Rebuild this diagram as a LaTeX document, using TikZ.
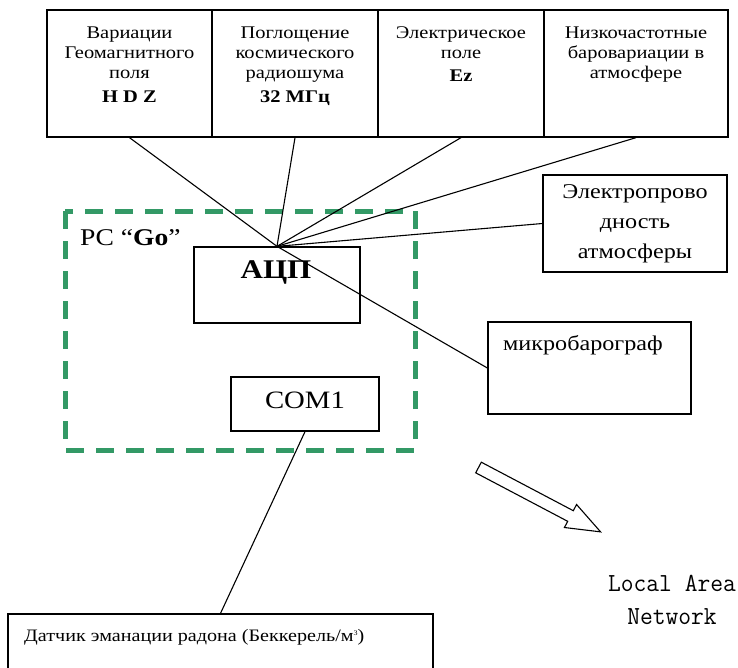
\documentclass[tikz,border=0pt]{standalone}
\usepackage{fontspec}
\setmainfont{Liberation Serif}[FakeStretch=1.15]
\newfontfamily\serifnt{Liberation Serif}[FakeStretch=1.15]
\newfontfamily\monofnt{Latin Modern Mono}
\usetikzlibrary{calc}
\definecolor{dashgreen}{RGB}{51,153,102}
\begin{document}
\begin{tikzpicture}[x=1pt,y=-1pt,
  box/.style={draw=black, line width=1.3pt, inner sep=0pt},
  wire/.style={draw=black, line width=1.1pt},
  toplbl/.style={inner sep=0pt, align=center, anchor=north, font=\serifnt\fontsize{17.8}{20}\selectfont},
  bigtxt/.style={inner sep=0pt, font=\serifnt\fontsize{21}{30}\selectfont}]
\clip (0,0) rectangle (738,667);
\fill[white] (0,0) rectangle (738,667);

% PC frame
\draw[dashgreen, line width=5pt, dash pattern=on 18pt off 12pt] (65,211) rectangle (415,450);
\node[inner sep=0pt, anchor=west, font=\serifnt\fontsize{24}{28}\selectfont] (pc) at (80,238) {PC “\textbf{Go}”};

% top boxes
\node[box, minimum width=165pt, minimum height=127pt] (b1) at (129.5,73.5) {};
\node[box, minimum width=166pt, minimum height=127pt] (b2) at (295,73.5) {};
\node[box, minimum width=166pt, minimum height=127pt] (b3) at (461,73.5) {};
\node[box, minimum width=184pt, minimum height=127pt] (b4) at (636,73.5) {};
\node[toplbl] (t1) at (129.5,26.5) {Вариации\\Геомагнитного\\поля\\[4pt]\textbf{H D Z}};
\node[toplbl] (t2) at (295,26.5) {Поглощение\\космического\\радиошума\\[4pt]\textbf{32 МГц}};
\node[toplbl] (t3) at (461,26.5) {Электрическое\\поле\\[3pt]\textbf{Ez}};
\node[toplbl] (t4) at (636,26.5) {Низкочастотные\\баровариации в\\атмосфере};

% right boxes
\node[box, bigtxt, align=center, minimum width=184pt, minimum height=97pt] (el) at (635,223.5) {Электропрово\\дность\\атмосферы};
\node[box, minimum width=203pt, minimum height=92pt] (mb) at (589.5,368) {};
\node[bigtxt, anchor=west] (mbt) at (503,345) {микробарограф};

% PC inner boxes
\node[box, minimum width=166pt, minimum height=76pt] (adc) at (277,285) {};
\node[inner sep=0pt, font=\serifnt\fontsize{27}{30}\selectfont\bfseries] (adct) at (276,272) {АЦП};
\node[box, minimum width=148pt, minimum height=54pt, text depth=8pt, font=\serifnt\fontsize{25}{28}\selectfont] (com) at (305,404) {COM1};

% radon sensor
\node[box, minimum width=425pt, minimum height=60pt] (rad) at (220.5,644) {};
\node[inner sep=0pt, anchor=west, font=\serifnt\fontsize{17.5}{20}\selectfont] (radt) at (24,637) {Датчик эманации радона (Беккерель/м\raisebox{6pt}{\fontsize{7}{7}\selectfont 3})};

% connectors
\draw[wire] (b1.south) -- (adc.north);
\draw[wire] (b2.south) -- (adc.north);
\draw[wire] (b3.south) -- (adc.north);
\draw[wire] (b4.south) -- (adc.north);
\draw[wire] (el.west) -- (adc.north);
\draw[wire] (mb.west) -- (adc.north);
\draw[wire] (com.south) -- (rad.north);

% LAN arrow
\draw[line width=1.1pt, fill=white, line join=miter, shift={(478.5,467.5)}, rotate=-27.8]
  (0,-6) -- (104,-6) -- (104,-13) -- (138,0) -- (104,13) -- (104,6) -- (0,6) -- cycle;
\node[inner sep=0pt, align=center, font=\monofnt\fontsize{24.8}{33}\selectfont] (lan) at (672,600)
  {\scalebox{1}[1.05]{Local Area}\\\scalebox{1}[1.05]{Network}};
\end{tikzpicture}
\end{document}
